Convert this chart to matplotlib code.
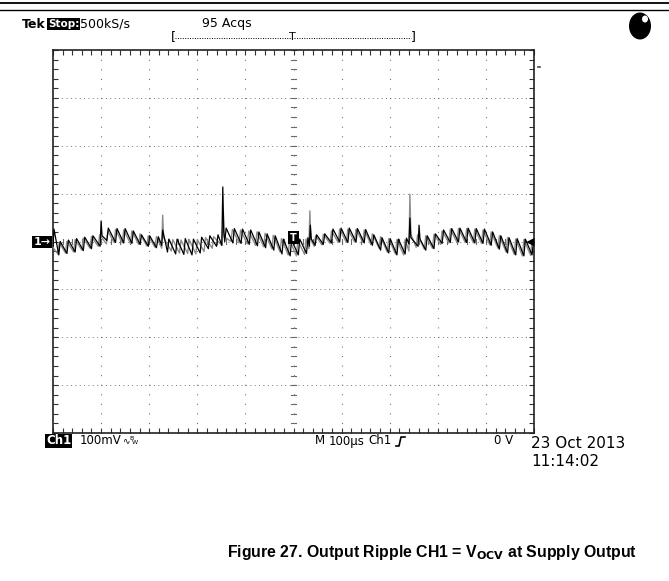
import numpy as np
import matplotlib
matplotlib.use("Agg")
import matplotlib.pyplot as plt
from matplotlib.patches import Ellipse
from matplotlib.lines import Line2D

W, H = 669, 581

# ---------------- data ----------------
time_div_us = 100     # M 100us
volt_div_mv = 100     # Ch1 100mV
n_hdiv = 10
n_vdiv = 8

# black (latest acquisition) trace: time [us], voltage [mV]
black_t = [
    -500, -498, -488, -485, -471, -468, -454, -451,
    -437, -434, -420, -417, -402, -400, -398, -388, -385,
    -370, -367, -353, -350, -336, -333, -319, -316,
    -302, -299, -285, -281, -274, -272, -262, -259,
    -245, -242, -228, -225, -211, -208, -194, -191,
    -177, -174, -160, -157, -149, -147, -145, -143, -140,
    -126, -123, -109, -106, -92, -89, -75, -72,
    -58, -55, -41, -38, -24, -21, -7, -4,
    10, 13, 27, 30, 33, 35, 37, 45, 48,
    62, 65, 79, 82, 96, 99, 113, 116,
    130, 133, 147, 150, 164, 167, 181, 184,
    198, 201, 215, 218, 232, 235, 240, 242, 244,
    259, 261, 263, 275, 278, 292, 295, 309, 312,
    326, 329, 343, 346, 360, 363, 377, 380,
    394, 397, 411, 414, 428, 431, 445, 448,
    462, 465, 479, 482, 496, 499,
]
black_v = [
    -10, 26, -28, 0, -25, 3, -22, 6,
    -19, 9, -15, 12, -10, 43, 12, 2, 28,
    -2, 27, -3, 27, -4, 22, -6, 14,
    -10, 12, -13, 10, -8, 24, -22, 5,
    -26, 5, -27, 6, -28, 5, -24, 9,
    -15, 12, -10, 14, -8, 114, 20, 0, 28,
    -3, 27, -4, 26, -6, 24, -9, 20,
    -13, 16, -18, 12, -26, 5, -30, 3,
    -28, 5, -25, 8, -10, 34, 5, -8, 14,
    -6, 16, -3, 26, -1, 28, -2, 28,
    -1, 27, -3, 25, -8, 14, -18, 8,
    -24, 6, -28, 5, -26, 7, -5, 49, 8,
    -10, 34, 5, -18, 12, -15, 16, -4, 24,
    -2, 27, -1, 28, -2, 28, -3, 27,
    -4, 26, -8, 20, -16, 12, -24, 8,
    -28, 6, -30, 5, -28, 2,
]

# grey (persisted acquisition) trace: time [us], voltage [mV]
gray_t = [
    -500, -490, -487, -474, -471, -457, -454, -440,
    -437, -423, -420, -406, -403, -389, -386, -373,
    -370, -356, -353, -339, -336, -322, -319, -305,
    -302, -288, -285, -274, -272, -270, -254, -251, -237,
    -234, -220, -217, -203, -200, -186, -183, -169,
    -166, -149, -146, -144, -130, -127, -113,
    -110, -96, -93, -79, -76, -62, -59, -45,
    -42, -28, -25, -11, -8, 6, 9, 23,
    26, 32, 34, 36, 43, 46, 59, 62, 76,
    79, 93, 96, 110, 113, 127, 130, 144,
    147, 161, 164, 178, 181, 195, 198, 212,
    215, 229, 232, 240, 242, 244, 255, 258, 272,
    275, 289, 292, 306, 309, 323, 326, 340,
    343, 357, 360, 374, 377, 391, 394, 408,
    411, 425, 428, 442, 445, 459, 462, 476,
    479, 493, 496, 500,
]
gray_v = [
    -12, -26, -2, -24, 0, -22, 4, -18,
    7, -14, 10, -10, 14, -5, 22, -2,
    25, -3, 24, -4, 22, -6, 16, -9,
    12, -12, 10, -14, 55, 8, -20, 4, -24,
    3, -25, 4, -26, 4, -21, 8, -14,
    10, -8, 66, 10, 0, 25, -3,
    24, -5, 22, -8, 20, -11, 17, -15,
    13, -22, 6, -28, 3, -30, 2, -27,
    5, -15, 64, 5, -10, 12, -7, 15, -4,
    22, -2, 26, -2, 26, -1, 26, -2,
    24, -6, 16, -14, 10, -22, 6, -26,
    4, -28, 4, -20, 99, 15, -12, 14, -16,
    12, -14, 15, -6, 22, -3, 26, -2,
    27, -2, 27, -3, 26, -4, 24, -7,
    20, -14, 12, -22, 8, -27, 5, -30,
    4, -29, 3, -10,
]

header_brand = "Tek"
header_state = "Stop:"
header_rate = "500kS/s"
header_acqs = "95 Acqs"
ch_label = "Ch1"
ch_scale = "100mV"
tb_mode = "M"
tb_scale = "100\u00b5s"
trig_src = "Ch1"
trig_level_text = "0 V"
date_text = "23 Oct 2013"
clock_text = "11:14:02"
caption_text = r"Figure 27. Output Ripple CH1 = V$_{\mathbf{OCV}}$ at Supply Output"

# ---------------- figure ----------------
fig = plt.figure(figsize=(W / 100, H / 100), dpi=100)
fig.patch.set_facecolor("white")


def fx(x):
    return x / W


def fy(y):
    return 1 - y / H


# top rules
fig.add_artist(Line2D([0, 1], [fy(3), fy(3)], color="black", lw=1.3))
fig.add_artist(Line2D([0, 1], [fy(10), fy(10)], color="black", lw=1.0))

ax = fig.add_axes([fx(53), fy(433), 481 / W, 383 / H])
xmin = -n_hdiv / 2 * time_div_us
xmax = n_hdiv / 2 * time_div_us
ymin = -n_vdiv / 2 * volt_div_mv
ymax = n_vdiv / 2 * volt_div_mv
ax.set_xlim(xmin, xmax)
ax.set_ylim(ymin, ymax)

grid_col = "#6a6a6a"
# graticule (dotted)
for t in np.arange(xmin + time_div_us, xmax, time_div_us):
    ax.axvline(t, color=grid_col, lw=0.8, ls=(0, (0.9, 7.7)), zorder=1)
for v in np.arange(ymin + volt_div_mv, ymax, volt_div_mv):
    ax.axhline(v, color=grid_col, lw=0.7, ls=(0, (0.9, 3.6)), zorder=1)

# center crosshair minor ticks
minor_t = time_div_us / 5
minor_v = volt_div_mv / 5
for t in np.arange(xmin, xmax + 1, minor_t):
    ax.plot([t, t], [-5, 5], color=grid_col, lw=0.8, zorder=1)
for v in np.arange(ymin, ymax + 1, minor_v):
    ax.plot([-5, 5], [v, v], color=grid_col, lw=0.8, zorder=1)

# ticks along border
ax.set_xticks(np.arange(xmin, xmax + 1, time_div_us))
ax.set_yticks(np.arange(ymin, ymax + 1, volt_div_mv))
ax.set_xticks(np.arange(xmin, xmax + 1, minor_t), minor=True)
ax.set_yticks(np.arange(ymin, ymax + 1, minor_v), minor=True)
ax.tick_params(which="both", direction="in", length=3.5, width=0.8,
               top=True, right=True, labelbottom=False, labelleft=False,
               color="#333333")
for s in ax.spines.values():
    s.set_linewidth(1.2)
    s.set_color("#222222")

# traces
ax.plot(gray_t, gray_v, color="#8c8c8c", lw=1.0, zorder=3)
ax.plot(black_t, black_v, color="black", lw=0.9, zorder=4)

# trigger position marker in trace
ax.text(0, 8, "T", color="white", fontsize=7, fontweight="bold",
        ha="center", va="center", zorder=6,
        bbox=dict(facecolor="black", edgecolor="none", pad=1.2))
# trigger level arrow on right
ax.text(xmax, 0, "\u25c0", color="black", fontsize=8, ha="right",
        va="center", zorder=6)

# channel marker on the left
fig.text(fx(42), fy(242), "1\u2192", color="white", fontsize=8,
         fontweight="bold", ha="center", va="center",
         bbox=dict(facecolor="black", edgecolor="none", pad=1.0))

# small mark at the right of the graticule
fig.add_artist(Line2D([fx(538), fx(539.5)], [fy(67), fy(67)], color="#444444",
                      lw=1.2))

# header
hy = 24
fig.text(fx(22), fy(hy), header_brand, fontsize=9, fontweight="bold",
         va="center")
fig.text(fx(48), fy(hy), header_state, fontsize=7.5, fontweight="bold",
         color="white", va="center",
         bbox=dict(facecolor="black", edgecolor="none", pad=0.5))
fig.text(fx(80), fy(hy), header_rate, fontsize=9, va="center")
fig.text(fx(202), fy(hy), header_acqs, fontsize=9, va="center")

# record bracket
by = 37
fig.text(fx(173), fy(by), "[", fontsize=9, ha="center", va="center")
fig.text(fx(413), fy(by), "]", fontsize=9, ha="center", va="center")
fig.add_artist(Line2D([fx(175), fx(411)], [fy(by + 1), fy(by + 1)],
                      color="black", lw=0.7, ls=(0, (1, 1.5))))
fig.text(fx(292), fy(by), "T", fontsize=8, ha="center", va="center")

# acquisition indicator
fig.add_artist(Ellipse((fx(640), fy(26)), 22 / W, 27 / H,
                       transform=fig.transFigure, facecolor="black",
                       edgecolor="none"))
fig.add_artist(Ellipse((fx(645), fy(19)), 6 / W, 7 / H,
                       transform=fig.transFigure, facecolor="white",
                       edgecolor="none"))

# bottom readouts
bfs = 8.5
ry = 441
fig.text(fx(46), fy(ry), ch_label, fontsize=bfs, fontweight="bold",
         color="white", va="center",
         bbox=dict(facecolor="black", edgecolor="none", pad=0.6))
fig.text(fx(80), fy(ry), ch_scale, fontsize=bfs, va="center")
fig.text(fx(122), fy(ry), "\u223f", fontsize=6.5, va="center")
fig.text(fx(129), fy(ry - 3), "B", fontsize=4.5, va="center")
fig.text(fx(132), fy(ry + 2), "W", fontsize=4.5, va="center")
fig.text(fx(315), fy(ry), tb_mode, fontsize=bfs, va="center")
fig.text(fx(329), fy(ry), tb_scale, fontsize=bfs, va="center")
fig.text(fx(368), fy(ry), trig_src, fontsize=bfs, va="center")
# rising-edge symbol
fig.add_artist(Line2D([fx(396), fx(399), fx(401), fx(405)],
                      [fy(ry + 5), fy(ry + 5), fy(ry - 4), fy(ry - 4)],
                      color="black", lw=1.2))
fig.text(fx(513), fy(ry), trig_level_text, fontsize=bfs, ha="right",
         va="center")
fig.text(fx(531), fy(443), date_text, fontsize=11, va="center")
fig.text(fx(531), fy(462), clock_text, fontsize=11, va="center")

# caption
fig.text(fx(637), fy(553), caption_text, fontsize=11.4, fontweight="bold",
         family="Liberation Sans", ha="right", va="center")

fig.savefig("out.png", dpi=100)
